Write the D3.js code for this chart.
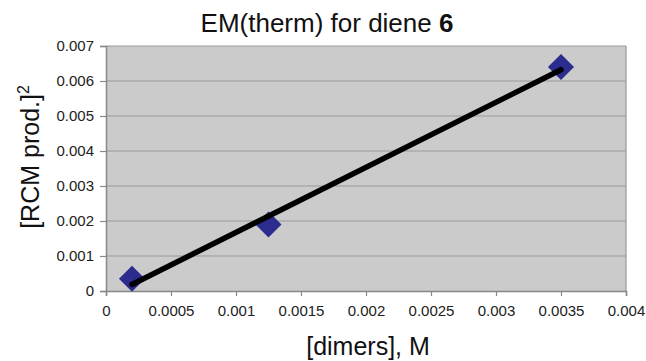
<!DOCTYPE html>
<html>
<head>
<meta charset="utf-8">
<script src="https://cdn.jsdelivr.net/npm/d3@7"></script>
<style>
  body { margin: 0; background: #fff; }
  svg { display: block; font-family: 'Liberation Sans', Arial, sans-serif; }
</style>
</head>
<body>
<svg></svg>
<script>
const WIDTH = 646;
const HEIGHT = 361;

// measured points
const dimers = [0.0002, 0.00125, 0.0035];
const rcmSquared = [0.00035, 0.0019, 0.0064];

const xTicks = [0, 0.0005, 0.001, 0.0015, 0.002, 0.0025, 0.003, 0.0035, 0.004];
const yTicks = [0, 0.001, 0.002, 0.003, 0.004, 0.005, 0.006, 0.007];

const margin = {top: 46, right: 20, bottom: 70, left: 106};

// least squares trend line, like the spreadsheet does
function linearFit(xs, ys) {
  const mx = d3.mean(xs);
  const my = d3.mean(ys);
  let sxy = 0;
  let sxx = 0;
  xs.forEach((x, i) => {
    sxy += (x - mx) * (ys[i] - my);
    sxx += (x - mx) * (x - mx);
  });
  const slope = sxy / sxx;
  return {slope, intercept: my - slope * mx};
}

window.onload = () => {
  const svg = d3.select('svg')
      .attr('width', WIDTH)
      .attr('height', HEIGHT);

  const x = d3.scaleLinear()
      .domain([0, 0.004])
      .range([margin.left, WIDTH - margin.right]);
  const y = d3.scaleLinear()
      .domain([0, 0.007])
      .range([HEIGHT - margin.bottom, margin.top]);

  // plot area
  svg.append('rect')
      .attr('x', x(0))
      .attr('y', y(0.007))
      .attr('width', x(0.004) - x(0))
      .attr('height', y(0) - y(0.007))
      .attr('fill', '#cbcbcb');

  // gridlines
  svg.append('g')
    .selectAll('line')
    .data(yTicks.slice(1))
    .join('line')
      .attr('x1', x(0))
      .attr('x2', x(0.004))
      .attr('y1', (d) => y(d))
      .attr('y2', (d) => y(d))
      .attr('stroke', '#9a9a9a')
      .attr('stroke-width', 1.2);

  // right border
  svg.append('line')
      .attr('x1', x(0.004)).attr('x2', x(0.004))
      .attr('y1', y(0)).attr('y2', y(0.007))
      .attr('stroke', '#999').attr('stroke-width', 1.2);

  const xAxis = svg.append('g')
      .attr('transform', `translate(0, ${y(0)})`)
      .call(d3.axisBottom(x).tickValues(xTicks).tickFormat((d) => String(+d.toFixed(4))).tickSize(5).tickPadding(9));
  const yAxis = svg.append('g')
      .attr('transform', `translate(${x(0)}, 0)`)
      .call(d3.axisLeft(y).tickValues(yTicks).tickFormat((d) => String(+d.toFixed(3))).tickSize(6).tickPadding(6));

  [xAxis, yAxis].forEach((ax) => {
    ax.select('.domain').attr('stroke', '#888').attr('stroke-width', 1.5);
    ax.selectAll('.tick line').attr('stroke', '#888').attr('stroke-width', 1.2);
    ax.selectAll('.tick text')
        .attr('fill', '#222')
        .style('font-size', '15px')
        .style('font-family', "'Liberation Sans', Arial, sans-serif");
  });

  // trend line
  const fit = linearFit(dimers, rcmSquared);
  const x0 = d3.min(dimers);
  const x1 = d3.max(dimers);

  // diamond markers
  const diamond = d3.symbol().type(d3.symbolSquare).size(340);
  svg.append('g')
    .selectAll('path')
    .data(dimers.map((d, i) => [d, rcmSquared[i]]))
    .join('path')
      .attr('d', diamond)
      .attr('transform', (d) => `translate(${x(d[0])}, ${y(d[1])}) rotate(45)`)
      .attr('fill', '#2c2c8e');

  // line sits on top of the markers
  svg.append('line')
      .attr('x1', x(x0))
      .attr('y1', y(fit.intercept + fit.slope * x0))
      .attr('x2', x(x1))
      .attr('y2', y(fit.intercept + fit.slope * x1))
      .attr('stroke', '#000')
      .attr('stroke-width', 5.5)
      .attr('stroke-linecap', 'round');

  // title
  const title = svg.append('text')
      .attr('x', 327)
      .attr('y', 32)
      .attr('text-anchor', 'middle')
      .style('font-size', '26px')
      .attr('fill', '#111');
  title.append('tspan').text('EM(therm) for diene ');
  title.append('tspan').attr('font-weight', 'bold').text('6');

  svg.append('text')
      .attr('x', 368)
      .attr('y', 355)
      .attr('text-anchor', 'middle')
      .style('font-size', '25px')
      .attr('fill', '#111')
      .text('[dimers], M');

  const yLabel = svg.append('text')
      .attr('transform', 'translate(39, 157) rotate(-90)')
      .attr('text-anchor', 'middle')
      .style('font-size', '25px')
      .attr('fill', '#111');
  yLabel.append('tspan').text('[RCM prod.]');
  yLabel.append('tspan').attr('dy', -10).style('font-size', '16px').text('2');
};
</script>
</body>
</html>
